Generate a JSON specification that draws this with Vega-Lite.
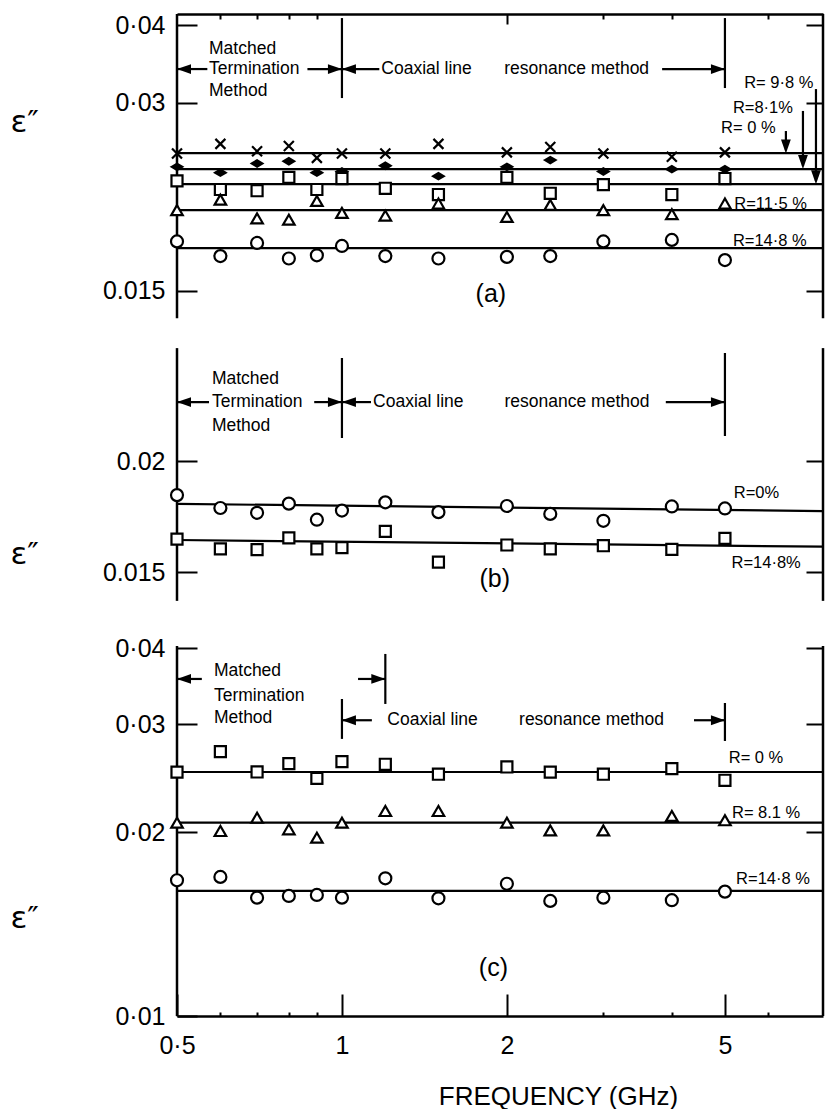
{
"$schema":"https://vega.github.io/schema/vega-lite/v6.json",
"background":"white",
"padding":{"left":10,"top":12,"right":0,"bottom":0},
"autosize":{"type":"pad"},
"bounds":"flush",
"spacing":0,
"config":{"view":{"stroke":null},"font":"Liberation Sans"},
"datasets":{
"pts":[
{"p":"a","s":"x","f":0.5,"e":0.0249},{"p":"a","s":"x","f":0.6,"e":0.0258},{"p":"a","s":"x","f":0.7,"e":0.0251},{"p":"a","s":"x","f":0.8,"e":0.0256},{"p":"a","s":"x","f":0.9,"e":0.0245},{"p":"a","s":"x","f":1,"e":0.0249},{"p":"a","s":"x","f":1.2,"e":0.0249},{"p":"a","s":"x","f":1.5,"e":0.0258},{"p":"a","s":"x","f":2,"e":0.025},{"p":"a","s":"x","f":2.4,"e":0.0255},{"p":"a","s":"x","f":3,"e":0.0249},{"p":"a","s":"x","f":4,"e":0.0246},{"p":"a","s":"x","f":5,"e":0.025},
{"p":"a","s":"d","f":0.5,"e":0.0237},{"p":"a","s":"d","f":0.6,"e":0.0232},{"p":"a","s":"d","f":0.7,"e":0.024},{"p":"a","s":"d","f":0.8,"e":0.0242},{"p":"a","s":"d","f":0.9,"e":0.0232},{"p":"a","s":"d","f":1,"e":0.0233},{"p":"a","s":"d","f":1.2,"e":0.0238},{"p":"a","s":"d","f":1.5,"e":0.0229},{"p":"a","s":"d","f":2,"e":0.0237},{"p":"a","s":"d","f":2.4,"e":0.0243},{"p":"a","s":"d","f":3,"e":0.0233},{"p":"a","s":"d","f":4,"e":0.0235},{"p":"a","s":"d","f":5,"e":0.0235},
{"p":"a","s":"s","f":0.5,"e":0.0225},{"p":"a","s":"s","f":0.6,"e":0.0218},{"p":"a","s":"s","f":0.7,"e":0.0217},{"p":"a","s":"s","f":0.8,"e":0.0228},{"p":"a","s":"s","f":0.9,"e":0.0218},{"p":"a","s":"s","f":1,"e":0.0227},{"p":"a","s":"s","f":1.2,"e":0.0219},{"p":"a","s":"s","f":1.5,"e":0.0214},{"p":"a","s":"s","f":2,"e":0.0228},{"p":"a","s":"s","f":2.4,"e":0.0215},{"p":"a","s":"s","f":3,"e":0.0222},{"p":"a","s":"s","f":4,"e":0.0214},{"p":"a","s":"s","f":5,"e":0.0227},
{"p":"a","s":"t","f":0.5,"e":0.0202},{"p":"a","s":"t","f":0.6,"e":0.021},{"p":"a","s":"t","f":0.7,"e":0.0196},{"p":"a","s":"t","f":0.8,"e":0.0195},{"p":"a","s":"t","f":0.9,"e":0.0209},{"p":"a","s":"t","f":1,"e":0.02},{"p":"a","s":"t","f":1.2,"e":0.0198},{"p":"a","s":"t","f":1.5,"e":0.0207},{"p":"a","s":"t","f":2,"e":0.0197},{"p":"a","s":"t","f":2.4,"e":0.0206},{"p":"a","s":"t","f":3,"e":0.0202},{"p":"a","s":"t","f":4,"e":0.0199},{"p":"a","s":"t","f":5,"e":0.0207},
{"p":"a","s":"c","f":0.5,"e":0.018},{"p":"a","s":"c","f":0.6,"e":0.01705},{"p":"a","s":"c","f":0.7,"e":0.0179},{"p":"a","s":"c","f":0.8,"e":0.0169},{"p":"a","s":"c","f":0.9,"e":0.0171},{"p":"a","s":"c","f":1,"e":0.0177},{"p":"a","s":"c","f":1.2,"e":0.01705},{"p":"a","s":"c","f":1.5,"e":0.0169},{"p":"a","s":"c","f":2,"e":0.017},{"p":"a","s":"c","f":2.4,"e":0.01705},{"p":"a","s":"c","f":3,"e":0.018},{"p":"a","s":"c","f":4,"e":0.0181},{"p":"a","s":"c","f":5,"e":0.0168},
{"p":"b","s":"c","f":0.5,"e":0.01831},{"p":"b","s":"c","f":0.6,"e":0.01771},{"p":"b","s":"c","f":0.7,"e":0.01749},{"p":"b","s":"c","f":0.8,"e":0.01791},{"p":"b","s":"c","f":0.9,"e":0.01718},{"p":"b","s":"c","f":1,"e":0.01759},{"p":"b","s":"c","f":1.2,"e":0.01797},{"p":"b","s":"c","f":1.5,"e":0.01752},{"p":"b","s":"c","f":2,"e":0.0178},{"p":"b","s":"c","f":2.4,"e":0.01744},{"p":"b","s":"c","f":3,"e":0.01713},{"p":"b","s":"c","f":4,"e":0.01778},{"p":"b","s":"c","f":5,"e":0.01769},
{"p":"b","s":"s","f":0.5,"e":0.01634},{"p":"b","s":"s","f":0.6,"e":0.01593},{"p":"b","s":"s","f":0.7,"e":0.0159},{"p":"b","s":"s","f":0.8,"e":0.01639},{"p":"b","s":"s","f":0.9,"e":0.01593},{"p":"b","s":"s","f":1,"e":0.01598},{"p":"b","s":"s","f":1.2,"e":0.01667},{"p":"b","s":"s","f":1.5,"e":0.01539},{"p":"b","s":"s","f":2,"e":0.01609},{"p":"b","s":"s","f":2.4,"e":0.01593},{"p":"b","s":"s","f":3,"e":0.01606},{"p":"b","s":"s","f":4,"e":0.01591},{"p":"b","s":"s","f":5,"e":0.01637},
{"p":"c","s":"s","f":0.5,"e":0.02507},{"p":"c","s":"s","f":0.6,"e":0.02708},{"p":"c","s":"s","f":0.7,"e":0.02508},{"p":"c","s":"s","f":0.8,"e":0.02588},{"p":"c","s":"s","f":0.9,"e":0.02449},{"p":"c","s":"s","f":1,"e":0.02608},{"p":"c","s":"s","f":1.2,"e":0.02582},{"p":"c","s":"s","f":1.5,"e":0.02487},{"p":"c","s":"s","f":2,"e":0.02556},{"p":"c","s":"s","f":2.4,"e":0.02507},{"p":"c","s":"s","f":3,"e":0.02487},{"p":"c","s":"s","f":4,"e":0.0254},{"p":"c","s":"s","f":5,"e":0.02431},
{"p":"c","s":"t","f":0.5,"e":0.02072},{"p":"c","s":"t","f":0.6,"e":0.02008},{"p":"c","s":"t","f":0.7,"e":0.02111},{"p":"c","s":"t","f":0.8,"e":0.02021},{"p":"c","s":"t","f":0.9,"e":0.01958},{"p":"c","s":"t","f":1,"e":0.02072},{"p":"c","s":"t","f":1.2,"e":0.02165},{"p":"c","s":"t","f":1.5,"e":0.02165},{"p":"c","s":"t","f":2,"e":0.02072},{"p":"c","s":"t","f":2.4,"e":0.02013},{"p":"c","s":"t","f":3,"e":0.02013},{"p":"c","s":"t","f":4,"e":0.02125},{"p":"c","s":"t","f":5,"e":0.02091},
{"p":"c","s":"c","f":0.5,"e":0.01668},{"p":"c","s":"c","f":0.6,"e":0.01689},{"p":"c","s":"c","f":0.7,"e":0.01562},{"p":"c","s":"c","f":0.8,"e":0.01572},{"p":"c","s":"c","f":0.9,"e":0.01578},{"p":"c","s":"c","f":1,"e":0.01562},{"p":"c","s":"c","f":1.2,"e":0.0168},{"p":"c","s":"c","f":1.5,"e":0.01558},{"p":"c","s":"c","f":2,"e":0.01646},{"p":"c","s":"c","f":2.4,"e":0.01543},{"p":"c","s":"c","f":3,"e":0.01562},{"p":"c","s":"c","f":4,"e":0.01547},{"p":"c","s":"c","f":5,"e":0.01598}
],
"fits":[
{"p":"a","f":0.5,"f2":7.55,"e":0.02494,"e2":0.02494},
{"p":"a","f":0.5,"f2":7.55,"e":0.02351,"e2":0.02351},
{"p":"a","f":0.5,"f2":7.55,"e":0.02223,"e2":0.02223},
{"p":"a","f":0.5,"f2":7.55,"e":0.0202,"e2":0.0202},
{"p":"a","f":0.5,"f2":7.55,"e":0.01756,"e2":0.01756},
{"p":"b","f":0.5,"f2":7.55,"e":0.0179,"e2":0.01757},
{"p":"b","f":0.5,"f2":7.55,"e":0.0163,"e2":0.01602},
{"p":"c","f":0.5,"f2":7.55,"e":0.02508,"e2":0.02508},
{"p":"c","f":0.5,"f2":7.55,"e":0.02073,"e2":0.02073},
{"p":"c","f":0.5,"f2":7.55,"e":0.01602,"e2":0.01602}
],
"segs":[
{"p":"a","f":0.5,"f2":0.568,"e":0.034,"e2":0.034},
{"p":"a","f":0.865,"f2":1,"e":0.034,"e2":0.034},
{"p":"a","f":1,"f2":1.17,"e":0.034,"e2":0.034},
{"p":"a","f":3.84,"f2":5,"e":0.034,"e2":0.034},
{"p":"a","f":1,"f2":1,"e":0.03055,"e2":0.04104},
{"p":"a","f":5,"f2":5,"e":0.0317,"e2":0.04104},
{"p":"a","f":6.46,"f2":6.46,"e":0.0252,"e2":0.02705},
{"p":"a","f":6.94,"f2":6.94,"e":0.0238,"e2":0.02913},
{"p":"a","f":7.33,"f2":7.33,"e":0.0225,"e2":0.03158},
{"p":"b","f":0.5,"f2":0.572,"e":0.0233,"e2":0.0233},
{"p":"b","f":0.89,"f2":1,"e":0.0233,"e2":0.0233},
{"p":"b","f":1,"f2":1.13,"e":0.0233,"e2":0.0233},
{"p":"b","f":3.9,"f2":5,"e":0.0233,"e2":0.0233},
{"p":"b","f":1,"f2":1,"e":0.02123,"e2":0.02612},
{"p":"b","f":5,"f2":5,"e":0.02134,"e2":0.02646},
{"p":"c","f":0.5,"f2":0.555,"e":0.03561,"e2":0.03561},
{"p":"c","f":1.07,"f2":1.2,"e":0.03561,"e2":0.03561},
{"p":"c","f":1.2,"f2":1.2,"e":0.03241,"e2":0.03913},
{"p":"c","f":1,"f2":1,"e":0.02841,"e2":0.03302},
{"p":"c","f":1,"f2":1.134,"e":0.03048,"e2":0.03048},
{"p":"c","f":4.39,"f2":5,"e":0.03048,"e2":0.03048},
{"p":"c","f":5,"f2":5,"e":0.02819,"e2":0.03253}
],
"heads":[
{"p":"a","d":"L","f":0.5,"e":0.034},{"p":"a","d":"R","f":1,"e":0.034},{"p":"a","d":"L","f":1,"e":0.034},{"p":"a","d":"R","f":5,"e":0.034},
{"p":"a","d":"D","f":6.46,"e":0.0249},{"p":"a","d":"D","f":6.94,"e":0.02351},{"p":"a","d":"D","f":7.33,"e":0.02223},
{"p":"b","d":"L","f":0.5,"e":0.0233},{"p":"b","d":"R","f":1,"e":0.0233},{"p":"b","d":"L","f":1,"e":0.0233},{"p":"b","d":"R","f":5,"e":0.0233},
{"p":"c","d":"L","f":0.5,"e":0.03561},{"p":"c","d":"R","f":1.2,"e":0.03561},{"p":"c","d":"L","f":1,"e":0.03048},{"p":"c","d":"R","f":5,"e":0.03048}
],
"txt":[
{"p":"a","k":"m","t":"Matched","f":0.572,"e":0.0366},
{"p":"a","k":"m","t":"Termination","f":0.572,"e":0.034},
{"p":"a","k":"m","t":"Method","f":0.572,"e":0.03135},
{"p":"a","k":"m","t":"Coaxial line","f":1.18,"e":0.034},
{"p":"a","k":"m","t":"resonance method","f":1.977,"e":0.034},
{"p":"a","k":"r","t":"R= 9·8 %","f":5.42,"e":0.0323},
{"p":"a","k":"r","t":"R=8·1%","f":5.17,"e":0.02945},
{"p":"a","k":"r","t":"R= 0 %","f":4.92,"e":0.02735},
{"p":"a","k":"r","t":"R=11·5 %","f":5.2,"e":0.0207},
{"p":"a","k":"r","t":"R=14·8 %","f":5.17,"e":0.01803},
{"p":"a","k":"n","t":"(a)","f":1.87,"e":0.01483},
{"p":"b","k":"m","t":"Matched","f":0.579,"e":0.02475},
{"p":"b","k":"m","t":"Termination","f":0.579,"e":0.0233},
{"p":"b","k":"m","t":"Method","f":0.579,"e":0.0219},
{"p":"b","k":"m","t":"Coaxial line","f":1.14,"e":0.0233},
{"p":"b","k":"m","t":"resonance method","f":1.98,"e":0.0233},
{"p":"b","k":"r","t":"R=0%","f":5.19,"e":0.01841},
{"p":"b","k":"r","t":"R=14·8%","f":5.14,"e":0.01535},
{"p":"b","k":"n","t":"(b)","f":1.9,"e":0.01474},
{"p":"c","k":"m","t":"Matched","f":0.584,"e":0.03665},
{"p":"c","k":"m","t":"Termination","f":0.584,"e":0.03339},
{"p":"c","k":"m","t":"Method","f":0.584,"e":0.03075},
{"p":"c","k":"m","t":"Coaxial line","f":1.21,"e":0.03048},
{"p":"c","k":"m","t":"resonance method","f":2.105,"e":0.03048},
{"p":"c","k":"r","t":"R= 0 %","f":5.08,"e":0.02644},
{"p":"c","k":"r","t":"R= 8.1 %","f":5.15,"e":0.02149},
{"p":"c","k":"r","t":"R=14·8 %","f":5.24,"e":0.01676},
{"p":"c","k":"n","t":"(c)","f":1.89,"e":0.01198}
],
"frames":[
{"p":"a","f":0.5,"e":0.01355,"e2":0.04166},{"p":"a","f":7.55,"e":0.01355,"e2":0.04166},
{"p":"b","f":0.5,"e":0.013922,"e2":0.026798},{"p":"b","f":7.55,"e":0.013922,"e2":0.026798},
{"p":"c","f":0.5,"e":0.01,"e2":0.040332},{"p":"c","f":7.55,"e":0.01,"e2":0.040332}
]
},
"vconcat":[
{
"width":646,"height":318,
"resolve":{"axis":{"x":"independent","y":"independent"},"scale":{"shape":"independent","size":"independent"}},
"encoding":{
"x":{"field":"f","type":"quantitative","scale":{"type":"log","domain":[0.5,7.55],"nice":false},"axis":null},
"y":{"field":"e","type":"quantitative","scale":{"type":"log","domain":[0.012885,0.04166],"nice":false},"axis":null}
},
"layer":[
{"data":{"name":"frames"},"transform":[{"filter":"datum.p==='a'"}],
"mark":{"type":"rule","color":"black","strokeWidth":2.5},
"encoding":{
"x":{"field":"f","type":"quantitative","scale":{"type":"log","domain":[0.5,7.55],"nice":false},
"axis":{"orient":"top","values":[0.6,0.7,0.8,0.9,3,4,6],"labels":false,"domain":true,"domainColor":"black","domainWidth":2.5,"ticks":true,"tickSize":-5,"tickWidth":2,"tickColor":"black","grid":false,"title":null}},
"y":{"field":"e","type":"quantitative","scale":{"type":"log","domain":[0.012885,0.04166],"nice":false},
"axis":{"orient":"left","values":[0.015,0.03,0.04],"labelExpr":"datum.value === 0.015 ? '0.015' : replace(toString(datum.value), '.', '·')","labelFontSize":25,"labelColor":"black","labelPadding":32,"labelFlush":false,"labelOverlap":false,"tickSize":-20,"tickWidth":2,"tickColor":"black","domain":false,"grid":false,
"title":"ε″","titleFont":"DejaVu Sans","titleFontSize":31,"titleFontWeight":"normal","titleColor":"black","titleAngle":0,"titleAlign":"left","titleBaseline":"middle","titleX":-167,"titleY":108}},
"y2":{"field":"e2"}}},
{"data":{"name":"fits"},"transform":[{"filter":"datum.p==='a'"}],
"mark":{"type":"rule","color":"black","strokeWidth":2.2},
"encoding":{
"x":{"field":"f","type":"quantitative","scale":{"type":"log","domain":[0.5,7.55],"nice":false},
"axis":{"orient":"top","values":[2],"labels":false,"domain":false,"ticks":true,"tickSize":-10,"tickWidth":2,"tickColor":"black","grid":false,"title":null}},
"y":{"field":"e","type":"quantitative","scale":{"type":"log","domain":[0.012885,0.04166],"nice":false},
"axis":{"orient":"right","values":[0.015,0.03,0.04],"labels":false,"ticks":true,"tickSize":-17,"tickWidth":2,"tickColor":"black","domain":false,"grid":false,"title":null}},
"x2":{"field":"f2"},"y2":{"field":"e2"}}},
{"data":{"name":"segs"},"transform":[{"filter":"datum.p==='a'"}],
"mark":{"type":"rule","color":"black","strokeWidth":2.2},
"encoding":{"x2":{"field":"f2"},"y2":{"field":"e2"}}},
{"data":{"name":"heads"},"transform":[{"filter":"datum.p==='a'"}],
"mark":{"type":"point","filled":true,"opacity":1,"color":"black","strokeWidth":0},
"encoding":{
"shape":{"field":"d","type":"nominal","scale":{"domain":["L","R","D"],"range":["M0,0L2,-0.7L2,0.7Z","M0,0L-2,-0.7L-2,0.7Z","M0,0L-0.7,-2L0.7,-2Z"]},"legend":null},
"size":{"field":"d","type":"ordinal","scale":{"domain":["L","R","D"],"range":[196,196,64]},"legend":null}}},
{"data":{"name":"pts"},"transform":[{"filter":"datum.p==='a'"}],
"mark":{"type":"point","filled":true,"opacity":1,"stroke":"black","strokeWidth":2.2},
"encoding":{
"shape":{"field":"s","type":"nominal","scale":{"domain":["x","d","s","t","c"],"range":["M-1,-1L1,1M-1,1L1,-1","M-1,0L0,-0.6L1,0L0,0.6Z","square","triangle-up","circle"]},"legend":null},
"size":{"field":"s","type":"ordinal","scale":{"domain":["x","d","s","t","c"],"range":[100,144,81,110,90]},"legend":null},
"fill":{"condition":{"test":"datum.s === 'd'","value":"black"},"value":"white"}}},
{"data":{"name":"txt"},"transform":[{"filter":"datum.p==='a' && datum.k==='m'"}],
"mark":{"type":"text","align":"left","baseline":"middle","fontSize":17.5,"color":"black"},
"encoding":{"text":{"field":"t","type":"nominal"}}},
{"data":{"name":"txt"},"transform":[{"filter":"datum.p==='a' && datum.k==='r'"}],
"mark":{"type":"text","align":"left","baseline":"middle","fontSize":16.5,"color":"black"},
"encoding":{"text":{"field":"t","type":"nominal"}}},
{"data":{"name":"txt"},"transform":[{"filter":"datum.p==='a' && datum.k==='n'"}],
"mark":{"type":"text","align":"center","baseline":"middle","fontSize":25,"color":"black"},
"encoding":{"text":{"field":"t","type":"nominal"}}}
]
},
{
"width":646,"height":291,
"resolve":{"axis":{"x":"independent","y":"independent"},"scale":{"shape":"independent","size":"independent"}},
"encoding":{
"x":{"field":"f","type":"quantitative","scale":{"type":"log","domain":[0.5,7.55],"nice":false},"axis":null},
"y":{"field":"e","type":"quantitative","scale":{"type":"log","domain":[0.013146,0.02794],"nice":false},"axis":null}
},
"layer":[
{"data":{"name":"frames"},"transform":[{"filter":"datum.p==='b'"}],
"mark":{"type":"rule","color":"black","strokeWidth":2.5},
"encoding":{
"y":{"field":"e","type":"quantitative","scale":{"type":"log","domain":[0.013146,0.02794],"nice":false},
"axis":{"orient":"left","values":[0.015,0.02],"labelExpr":"toString(datum.value)","labelFontSize":25,"labelColor":"black","labelPadding":32,"labelFlush":false,"labelOverlap":false,"tickSize":-20,"tickWidth":2,"tickColor":"black","domain":false,"grid":false,
"title":"ε″","titleFont":"DejaVu Sans","titleFontSize":31,"titleFontWeight":"normal","titleColor":"black","titleAngle":0,"titleAlign":"left","titleBaseline":"middle","titleX":-167,"titleY":222}},
"y2":{"field":"e2"}}},
{"data":{"name":"fits"},"transform":[{"filter":"datum.p==='b'"}],
"mark":{"type":"rule","color":"black","strokeWidth":2.2},
"encoding":{
"y":{"field":"e","type":"quantitative","scale":{"type":"log","domain":[0.013146,0.02794],"nice":false},
"axis":{"orient":"right","values":[0.015,0.02],"labels":false,"ticks":true,"tickSize":-17,"tickWidth":2,"tickColor":"black","domain":false,"grid":false,"title":null}},
"x2":{"field":"f2"},"y2":{"field":"e2"}}},
{"data":{"name":"segs"},"transform":[{"filter":"datum.p==='b'"}],
"mark":{"type":"rule","color":"black","strokeWidth":2.2},
"encoding":{"x2":{"field":"f2"},"y2":{"field":"e2"}}},
{"data":{"name":"heads"},"transform":[{"filter":"datum.p==='b'"}],
"mark":{"type":"point","filled":true,"opacity":1,"color":"black","strokeWidth":0},
"encoding":{
"shape":{"field":"d","type":"nominal","scale":{"domain":["L","R","D"],"range":["M0,0L2,-0.7L2,0.7Z","M0,0L-2,-0.7L-2,0.7Z","M0,0L-0.7,-2L0.7,-2Z"]},"legend":null},
"size":{"field":"d","type":"ordinal","scale":{"domain":["L","R","D"],"range":[196,196,64]},"legend":null}}},
{"data":{"name":"pts"},"transform":[{"filter":"datum.p==='b'"}],
"mark":{"type":"point","filled":true,"opacity":1,"stroke":"black","strokeWidth":2.2},
"encoding":{
"shape":{"field":"s","type":"nominal","scale":{"domain":["x","d","s","t","c"],"range":["M-1,-1L1,1M-1,1L1,-1","M-1,0L0,-0.6L1,0L0,0.6Z","square","triangle-up","circle"]},"legend":null},
"size":{"field":"s","type":"ordinal","scale":{"domain":["x","d","s","t","c"],"range":[100,144,81,110,90]},"legend":null},
"fill":{"condition":{"test":"datum.s === 'd'","value":"black"},"value":"white"}}},
{"data":{"name":"txt"},"transform":[{"filter":"datum.p==='b' && datum.k==='m'"}],
"mark":{"type":"text","align":"left","baseline":"middle","fontSize":17.5,"color":"black"},
"encoding":{"text":{"field":"t","type":"nominal"}}},
{"data":{"name":"txt"},"transform":[{"filter":"datum.p==='b' && datum.k==='r'"}],
"mark":{"type":"text","align":"left","baseline":"middle","fontSize":16.5,"color":"black"},
"encoding":{"text":{"field":"t","type":"nominal"}}},
{"data":{"name":"txt"},"transform":[{"filter":"datum.p==='b' && datum.k==='n'"}],
"mark":{"type":"text","align":"center","baseline":"middle","fontSize":25,"color":"black"},
"encoding":{"text":{"field":"t","type":"nominal"}}}
]
},
{
"width":646,"height":393,
"resolve":{"axis":{"x":"independent","y":"independent"},"scale":{"shape":"independent","size":"independent"}},
"encoding":{
"x":{"field":"f","type":"quantitative","scale":{"type":"log","domain":[0.5,7.55],"nice":false},"axis":null},
"y":{"field":"e","type":"quantitative","scale":{"type":"log","domain":[0.01,0.04397],"nice":false},"axis":null}
},
"layer":[
{"data":{"name":"frames"},"transform":[{"filter":"datum.p==='c'"}],
"mark":{"type":"rule","color":"black","strokeWidth":2.5},
"encoding":{
"x":{"field":"f","type":"quantitative","scale":{"type":"log","domain":[0.5,7.55],"nice":false},
"axis":{"orient":"bottom","values":[0.5,1,2,5],"labelExpr":"datum.value === 0.5 ? '0·5' : toString(datum.value)","labelFontSize":25,"labelColor":"black","labelFlush":false,"labelOverlap":false,"labelPadding":39,"ticks":true,"tickSize":-22,"tickWidth":2,"tickColor":"black","domain":true,"domainWidth":2.5,"domainColor":"black","grid":false,
"title":"FREQUENCY (GHz)","titleFontSize":26,"titleFontWeight":"normal","titleColor":"black","titleAlign":"center","titleBaseline":"middle","titleX":381,"titleY":80}},
"y":{"field":"e","type":"quantitative","scale":{"type":"log","domain":[0.01,0.04397],"nice":false},
"axis":{"orient":"left","values":[0.01,0.02,0.03,0.04],"labelExpr":"replace(toString(datum.value), '.', '·')","labelFontSize":25,"labelColor":"black","labelPadding":32,"labelFlush":false,"labelOverlap":false,"tickSize":-20,"tickWidth":2,"tickColor":"black","domain":false,"grid":false,
"title":"ε″","titleFont":"DejaVu Sans","titleFontSize":31,"titleFontWeight":"normal","titleColor":"black","titleAngle":0,"titleAlign":"left","titleBaseline":"middle","titleX":-167,"titleY":295}},
"y2":{"field":"e2"}}},
{"data":{"name":"fits"},"transform":[{"filter":"datum.p==='c'"}],
"mark":{"type":"rule","color":"black","strokeWidth":2.2},
"encoding":{
"x":{"field":"f","type":"quantitative","scale":{"type":"log","domain":[0.5,7.55],"nice":false},
"axis":{"orient":"bottom","values":[0.6,0.7,0.8,0.9,3,4,6],"labels":false,"domain":false,"ticks":true,"tickSize":-4,"tickWidth":2,"tickColor":"black","grid":false,"title":null}},
"y":{"field":"e","type":"quantitative","scale":{"type":"log","domain":[0.01,0.04397],"nice":false},
"axis":{"orient":"right","values":[0.02,0.03,0.04],"labels":false,"ticks":true,"tickSize":-17,"tickWidth":2,"tickColor":"black","domain":false,"grid":false,"title":null}},
"x2":{"field":"f2"},"y2":{"field":"e2"}}},
{"data":{"name":"segs"},"transform":[{"filter":"datum.p==='c'"}],
"mark":{"type":"rule","color":"black","strokeWidth":2.2},
"encoding":{"x2":{"field":"f2"},"y2":{"field":"e2"}}},
{"data":{"name":"heads"},"transform":[{"filter":"datum.p==='c'"}],
"mark":{"type":"point","filled":true,"opacity":1,"color":"black","strokeWidth":0},
"encoding":{
"shape":{"field":"d","type":"nominal","scale":{"domain":["L","R","D"],"range":["M0,0L2,-0.7L2,0.7Z","M0,0L-2,-0.7L-2,0.7Z","M0,0L-0.7,-2L0.7,-2Z"]},"legend":null},
"size":{"field":"d","type":"ordinal","scale":{"domain":["L","R","D"],"range":[196,196,64]},"legend":null}}},
{"data":{"name":"pts"},"transform":[{"filter":"datum.p==='c'"}],
"mark":{"type":"point","filled":true,"opacity":1,"stroke":"black","strokeWidth":2.2},
"encoding":{
"shape":{"field":"s","type":"nominal","scale":{"domain":["x","d","s","t","c"],"range":["M-1,-1L1,1M-1,1L1,-1","M-1,0L0,-0.6L1,0L0,0.6Z","square","triangle-up","circle"]},"legend":null},
"size":{"field":"s","type":"ordinal","scale":{"domain":["x","d","s","t","c"],"range":[100,144,81,110,90]},"legend":null},
"fill":{"condition":{"test":"datum.s === 'd'","value":"black"},"value":"white"}}},
{"data":{"name":"txt"},"transform":[{"filter":"datum.p==='c' && datum.k==='m'"}],
"mark":{"type":"text","align":"left","baseline":"middle","fontSize":17.5,"color":"black"},
"encoding":{"text":{"field":"t","type":"nominal"}}},
{"data":{"name":"txt"},"transform":[{"filter":"datum.p==='c' && datum.k==='r'"}],
"mark":{"type":"text","align":"left","baseline":"middle","fontSize":16.5,"color":"black"},
"encoding":{"text":{"field":"t","type":"nominal"}}},
{"data":{"name":"txt"},"transform":[{"filter":"datum.p==='c' && datum.k==='n'"}],
"mark":{"type":"text","align":"center","baseline":"middle","fontSize":25,"color":"black"},
"encoding":{"text":{"field":"t","type":"nominal"}}}
]
}
]
}
